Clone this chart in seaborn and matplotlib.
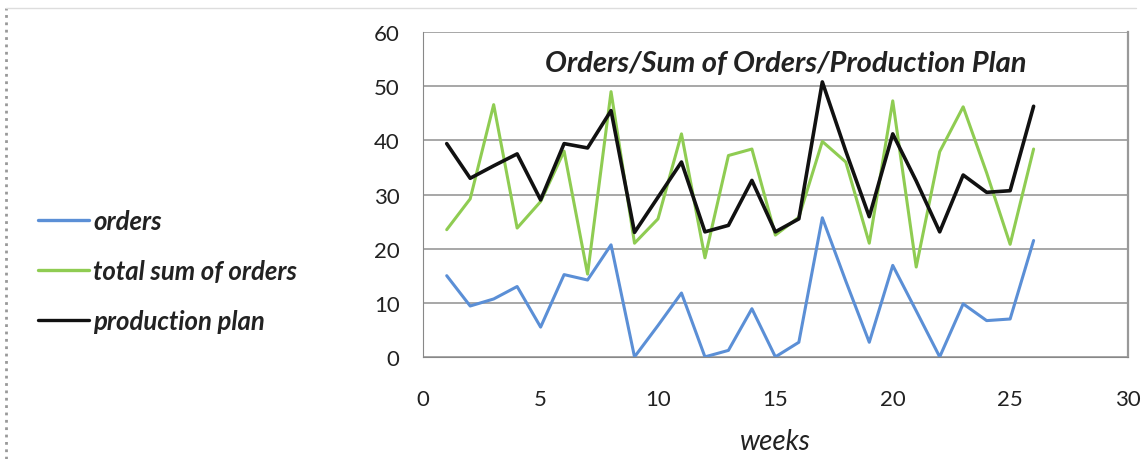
import matplotlib
matplotlib.use("Agg")
import matplotlib.pyplot as plt
import seaborn as sns
import pandas as pd
from matplotlib.lines import Line2D

weeks = list(range(1, 27))
orders = [15.0, 9.4, 10.7, 13.0, 5.5, 15.2, 14.2, 20.7, 0.0, 5.8, 11.8, 0.0, 1.2,
          8.9, 0.0, 2.7, 25.7, 14.0, 2.7, 16.9, 8.5, 0.0, 9.8, 6.7, 7.0, 21.5]
total_sum = [23.5, 29.2, 46.6, 23.8, 28.7, 38.0, 15.3, 49.0, 21.0, 25.5, 41.2, 18.3, 37.2,
             38.4, 22.5, 25.8, 39.8, 36.0, 21.0, 47.3, 16.6, 37.9, 46.2, 34.0, 20.8, 38.4]
production = [39.4, 33.0, 35.3, 37.5, 29.0, 39.4, 38.6, 45.5, 23.0, 29.5, 36.0, 23.1, 24.3,
              32.6, 23.1, 25.5, 50.8, 38.0, 25.9, 41.2, 32.5, 23.1, 33.6, 30.4, 30.7, 46.3]
series_names = ["orders", "total sum of orders", "production plan"]
colors = ["#5b8fd6", "#8fcc52", "#111111"]
x_ticks = [0, 5, 10, 15, 20, 25, 30]
y_ticks = [0, 10, 20, 30, 40, 50, 60]
title = "Orders/Sum of Orders/Production Plan"
xlabel = "weeks"

df = pd.DataFrame({
    "week": weeks * 3,
    "value": orders + total_sum + production,
    "series": [series_names[0]] * 26 + [series_names[1]] * 26 + [series_names[2]] * 26,
})

sns.set_style("white")
plt.rcParams["font.family"] = ["Lato", "DejaVu Sans"]

fig = plt.figure(figsize=(11.47, 4.6), dpi=100)
ax = fig.add_axes([0.369, 0.222, 0.614, 0.706])

sns.lineplot(data=df, x="week", y="value", hue="series", hue_order=series_names,
             palette=colors, ax=ax, linewidth=2.2, legend=False)
ax.lines[2].set_linewidth(2.6)

ax.set_xlim(0, 30)
ax.set_ylim(0, 60)
ax.set_xticks(x_ticks)
ax.set_yticks(y_ticks)
ax.tick_params(axis="both", labelsize=16, colors="#888888", length=5, width=1.2)
ax.tick_params(axis="x", pad=18)
ax.tick_params(axis="y", pad=12)
for lab in ax.get_xticklabels() + ax.get_yticklabels():
    lab.set_color("#222222")
ax.yaxis.grid(True, color="#a0a0a0", linewidth=1.3)
ax.set_axisbelow(True)
ax.spines["top"].set_visible(False)
ax.spines["left"].set_color("#888888")
ax.spines["bottom"].set_color("#888888")
ax.spines["right"].set_color("#999999")
ax.spines["right"].set_linewidth(1.6)
ax.set_xlabel(xlabel, fontsize=20, style="italic", labelpad=14, color="#222222")
ax.set_ylabel("")

ax.text(0.515, 0.905, title, transform=ax.transAxes, ha="center", va="center",
        fontsize=21, fontstyle="italic", fontweight="bold", color="#222222")

handles = [Line2D([0], [0], color=c, linewidth=2.4) for c in colors]
leg = fig.legend(handles, series_names, loc="center left", bbox_to_anchor=(0.033, 0.409),
                 frameon=False, fontsize=18.5, handlelength=2.0, handletextpad=0.15,
                 labelspacing=1.02, borderpad=0, borderaxespad=0)
for t in leg.get_texts():
    t.set_fontstyle("italic")
    t.set_fontweight("bold")
    t.set_color("#222222")

# chart border (dotted left edge, light top edge)
fig.add_artist(Line2D([0.005, 0.005], [0.0, 0.98], transform=fig.transFigure,
                      color="#999999", linestyle=":", linewidth=2))
fig.add_artist(Line2D([0.005, 0.99], [0.98, 0.98], transform=fig.transFigure,
                      color="#dddddd", linewidth=1))

fig.savefig("out.png", dpi=100)
